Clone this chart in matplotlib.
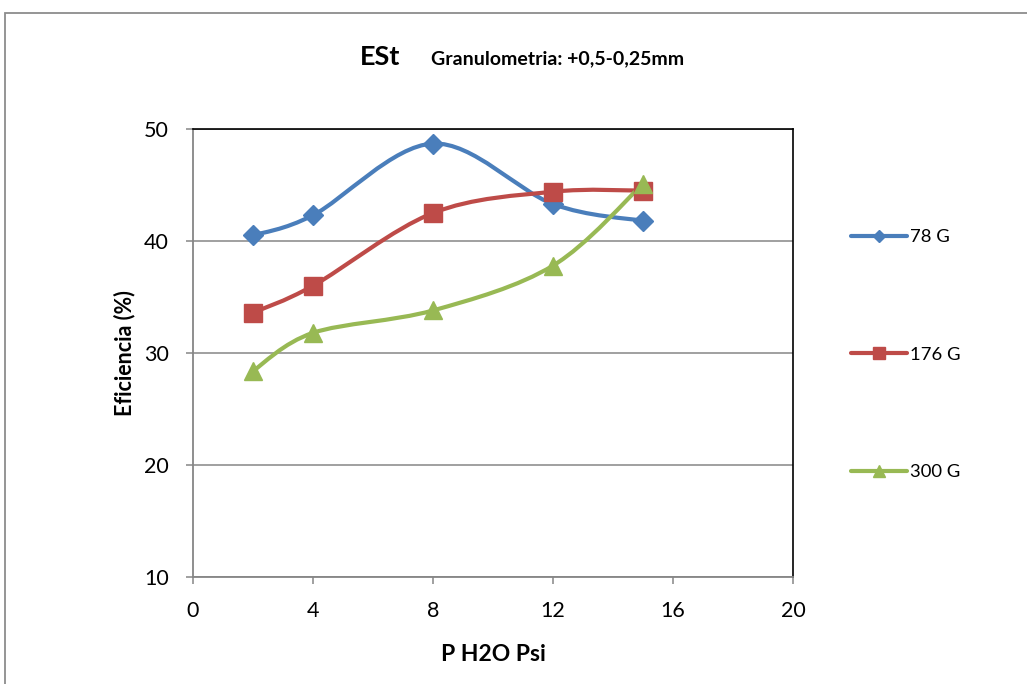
import matplotlib
matplotlib.use("Agg")
import matplotlib.pyplot as plt
from matplotlib.path import Path
from matplotlib.patches import PathPatch, Rectangle
from matplotlib.lines import Line2D

plt.rcParams['font.family'] = ['Lato', 'DejaVu Sans']

pressure = [2, 4, 8, 12, 15]
series_names = ['78 G', '176 G', '300 G']
eff_78 = [40.5, 42.3, 48.7, 43.3, 41.8]
eff_176 = [33.6, 36.0, 42.5, 44.4, 44.5]
eff_300 = [28.4, 31.8, 33.8, 37.8, 45.1]

colors = ['#4A7EBB', '#BE4B48', '#98B954']
markers = ['D', 's', '^']
msizes = [10, 13, 13.5]


def smooth_path(xs, ys):
    # cubic bezier through the points, same style as a "smoothed line" in office charts
    pts = list(zip(xs, ys))
    n = len(pts)
    verts = [pts[0]]
    codes = [Path.MOVETO]
    for i in range(n - 1):
        p0 = pts[i - 1] if i > 0 else pts[i]
        p1 = pts[i]
        p2 = pts[i + 1]
        p3 = pts[i + 2] if i + 2 < n else pts[i + 1]
        c1 = (p1[0] + (p2[0] - p0[0]) / 6.0, p1[1] + (p2[1] - p0[1]) / 6.0)
        c2 = (p2[0] - (p3[0] - p1[0]) / 6.0, p2[1] - (p3[1] - p1[1]) / 6.0)
        verts += [c1, c2, p2]
        codes += [Path.CURVE4] * 3
    return Path(verts, codes)


fig = plt.figure(figsize=(10.27, 6.84), dpi=100)
ax = fig.add_axes([0.1879, 0.1564, 0.5842, 0.655])

# outer chart frame
fig.patches.append(Rectangle((4.5 / 1027, -0.1), 1.2, 1.1 - 13.5 / 684,
                             transform=fig.transFigure, fill=False,
                             edgecolor='#8c8c8c', linewidth=1.3, zorder=0))

for vals, c, m, ms in zip([eff_78, eff_176, eff_300], colors, markers, msizes):
    ax.add_patch(PathPatch(smooth_path(pressure, vals), fill=False,
                           edgecolor=c, linewidth=3.0, capstyle='round',
                           joinstyle='round', zorder=3))
    ax.plot(pressure, vals, linestyle='none', marker=m, markersize=ms,
            color=c, markeredgecolor=c, zorder=4)

ax.set_xlim(0, 20)
ax.set_ylim(10, 50)
ax.set_xticks(range(0, 21, 4))
ax.set_yticks(range(10, 51, 10))
ax.yaxis.grid(True, color='#868686', linewidth=1.1)
ax.set_axisbelow(True)

for side in ['left', 'bottom']:
    ax.spines[side].set_color('#868686')
    ax.spines[side].set_linewidth(1.3)
for side in ['top', 'right']:
    ax.spines[side].set_color('black')
    ax.spines[side].set_linewidth(1.2)
ax.tick_params(axis='both', direction='out', length=5, width=1.1,
               color='#868686', labelsize=15.5, pad=12.5)

ax.set_xlabel('P H2O Psi', fontsize=16.5, fontweight='bold', labelpad=16)
ax.set_ylabel('Eficiencia (%)', fontsize=15.5, fontweight='bold', labelpad=6)

fig.text(0.350, 0.916, 'ESt', fontsize=19.5, fontweight='bold', ha='left', va='center')
fig.text(0.420, 0.914, 'Granulometria: +0,5-0,25mm', fontsize=14,
         fontweight='bold', ha='left', va='center')

handles = [Line2D([], [], color=c, linewidth=3.0, marker=m, markersize=s,
                  solid_capstyle='round')
           for c, m, s in zip(colors, markers, [6, 9, 8])]
ax.legend(handles, series_names, loc='upper left', bbox_to_anchor=(1.085, 0.793),
          frameon=False, fontsize=13.3, labelspacing=5.5, handlelength=3.0,
          handletextpad=0.2, borderaxespad=0)

fig.savefig('out.png', dpi=100)
